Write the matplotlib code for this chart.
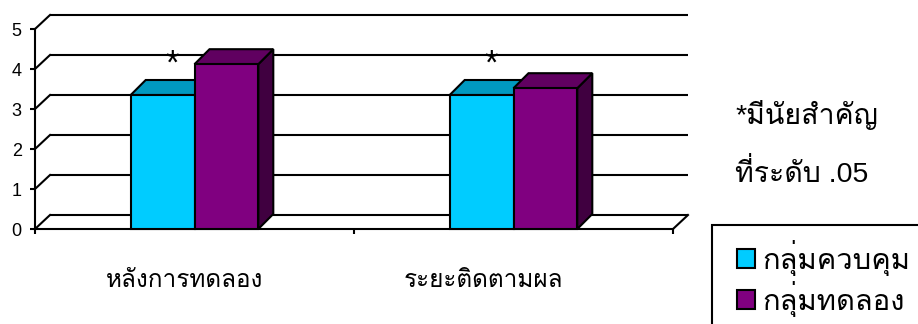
import matplotlib
matplotlib.use("Agg")
import matplotlib.pyplot as plt
from matplotlib import font_manager
from matplotlib.patches import Patch, Rectangle

# data
categories = ["หลังการทดลอง", "ระยะติดตามผล"]
series_names = ["กลุ่มควบคุม", "กลุ่มทดลอง"]
control = [3.35, 3.35]
experiment = [4.12, 3.52]
star_text = ["*", "*"]
yticks = [0, 1, 2, 3, 4, 5]
note_lines = ["*มีนัยสำคัญ", "ที่ระดับ .05"]

# thai font (first one that is installed)
names = {f.name for f in font_manager.fontManager.ttflist}
thai = "DejaVu Sans"
for cand in ["Loma", "Noto Sans Thai Looped", "Sarabun", "Noto Sans Thai"]:
    if cand in names:
        thai = cand
        break
plt.rcParams["font.family"] = ["Liberation Sans", thai]

W, H = 918, 324
fig = plt.figure(figsize=(W / 100, H / 100), dpi=100)
ax = fig.add_axes([35 / W, (H - 229) / H, 638 / W, 200 / H])
ax.set_xlim(-0.5, 1.5)
ax.set_ylim(0, 5)

LW = 1.5
dx = 15 / 319    # depth of the 3d box, x units
dy_wall = 0.35   # depth, y units (walls)
dy_bar = 0.375   # depth, y units (bars)
bw = 0.2

# back wall grid + left wall diagonals
for v in yticks:
    ax.plot([-0.5 + dx, 1.5 + dx], [v + dy_wall, v + dy_wall], color="black", lw=LW,
            clip_on=False, zorder=1, solid_capstyle="butt")
    ax.plot([-0.5, -0.5 + dx], [v, v + dy_wall], color="black", lw=LW, clip_on=False, zorder=1)
# right floor edge
ax.plot([1.5, 1.5 + dx], [0, dy_wall], color="black", lw=LW, clip_on=False, zorder=1)

colors = [("#00CCFF", "#0099C0", "#007799"), ("#800080", "#600060", "#400040")]
z = 3
for j, vals in enumerate([control, experiment]):
    front, top, side = colors[j]
    xs = [i - bw + j * bw for i in range(len(categories))]
    for x0, h in zip(xs, vals):
        x1 = x0 + bw
        ax.fill([x1, x1 + dx, x1 + dx, x1], [0, dy_bar, h + dy_bar, h], facecolor=side,
                edgecolor="black", lw=LW, clip_on=False, zorder=z + 10 * j)
        ax.fill([x0, x0 + dx, x1 + dx, x1], [h, h + dy_bar, h + dy_bar, h], facecolor=top,
                edgecolor="black", lw=LW, clip_on=False, zorder=z + 10 * j)
    ax.bar(xs, vals, width=bw, align="edge", color=front, edgecolor="black", lw=LW,
           zorder=z + 10 * j + 1, clip_on=False)

# significance stars above control bars
for i, (h, s) in enumerate(zip(control, star_text)):
    ax.text(i - bw / 2 + dx / 2 + 0.005, h + dy_bar + 0.17, s, ha="center", va="baseline",
            fontsize=25, zorder=30)

# axes look
for sp in ["top", "right"]:
    ax.spines[sp].set_visible(False)
ax.spines["left"].set_linewidth(LW)
ax.spines["bottom"].set_linewidth(LW)
ax.set_yticks(yticks)
ax.set_yticklabels([str(t) for t in yticks])
ax.set_xticks([-0.5, 0.5, 1.5])
ax.set_xticklabels([])
ax.tick_params(axis="y", length=3.6, width=LW, pad=6, labelsize=13)
ax.tick_params(axis="x", length=3.6, width=LW, direction="out")

# category labels
label_x = [-0.03, 0.906]
for x, c in zip(label_x, categories):
    ax.text(x, -1.3, c, ha="center", va="center", fontsize=17.5, clip_on=False)

# note text on the right
fig.text(736 / W, 1 - 124 / H, note_lines[0], va="baseline", fontsize=20.5)
fig.text(735 / W, 1 - 182 / H, note_lines[1], va="baseline", fontsize=20.5)

# legend with box running off the figure edge
handles = [Patch(facecolor=colors[0][0], edgecolor="black", lw=LW),
           Patch(facecolor=colors[1][0], edgecolor="black", lw=LW)]
fig.legend(handles, series_names, loc="upper left", bbox_to_anchor=(737 / W, 1 - 240 / H),
           frameon=False, fontsize=21, handlelength=0.62, handleheight=0.62,
           handletextpad=0.25, labelspacing=0.16, borderpad=0, borderaxespad=0)
fig.patches.append(Rectangle((712 / W, -0.2), 0.5, (H - 225) / H + 0.2, transform=fig.transFigure,
                             fill=False, edgecolor="black", lw=LW))

fig.savefig("out.png", dpi=100)
